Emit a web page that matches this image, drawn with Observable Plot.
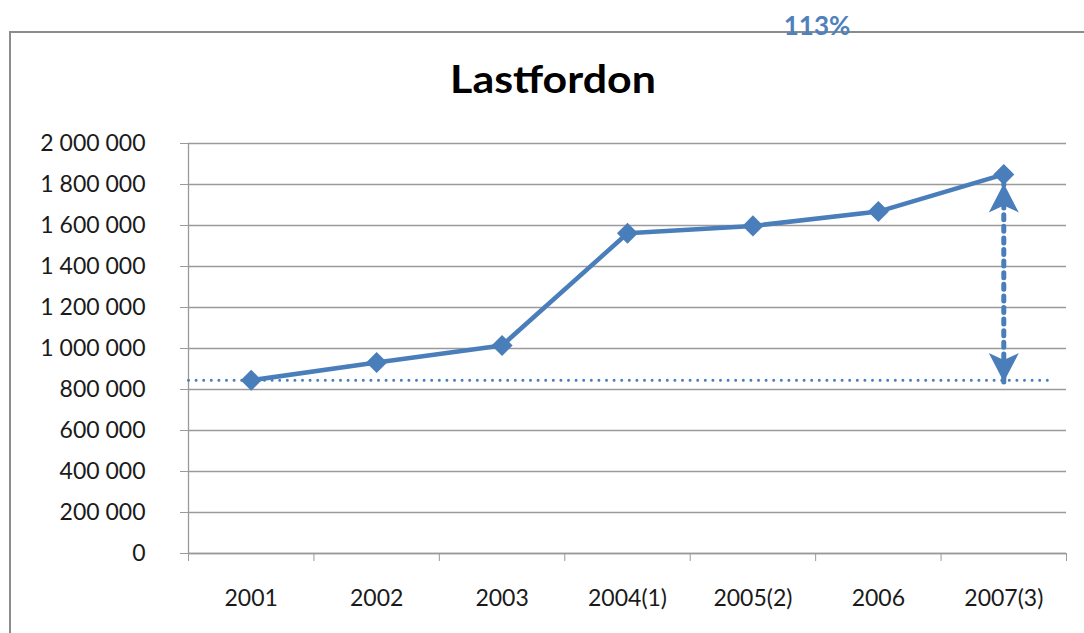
<!DOCTYPE html>
<html>
<head>
<meta charset="utf-8">
<script src="https://cdn.jsdelivr.net/npm/d3@7"></script>
<script src="https://cdn.jsdelivr.net/npm/@observablehq/plot@0.6"></script>
<style>
  html, body { margin: 0; padding: 0; background: #fff; overflow: hidden; }
  #wrap { position: relative; width: 1084px; height: 633px; overflow: hidden; font-family: Lato, "Open Sans", sans-serif; }
  #frame { position: absolute; left: 9px; top: 31px; width: 1100px; height: 700px; border: 2px solid #8c8c8c; box-sizing: border-box; }
  #chart { position: absolute; left: 0; top: 0; }
  #title { position: absolute; left: 553px; top: 59px; transform: translateX(-50%) scaleX(1.1); font: bold 39px/1 Lato, sans-serif; color: #000; white-space: nowrap; }
  #pct { position: absolute; left: 817px; top: 12px; transform: translateX(-50%); font: bold 26px/1 Lato, sans-serif; color: #4F81BD; white-space: nowrap; }
</style>
</head>
<body>
<div id="wrap">
  <div id="frame"></div>
  <div id="chart"></div>
  <div id="title">Lastfordon</div>
  <div id="pct">113%</div>
</div>
<script>
// ---- data ----
const categories = ["2001", "2002", "2003", "2004(1)", "2005(2)", "2006", "2007(3)"];
const values = [845000, 932000, 1015000, 1562000, 1598000, 1668000, 1849000];
const yTicks = [0, 200000, 400000, 600000, 800000, 1000000, 1200000, 1400000, 1600000, 1800000, 2000000];
const baselineValue = 845000;          // dotted reference level (2001)
const baselineExtent = [-0.5, 6.37];   // x-index extent of the dotted reference line
const arrowIndex = 6;                  // arrow at 2007(3)
const arrowTop = 1805000;
const arrowBottom = 836000;

// ---- derived tables ----
const series = categories.map((c, i) => ({i, category: c, value: values[i]}));
const refLine = baselineExtent.map(x => ({x, y: baselineValue}));
const shaft = [{x: arrowIndex, y: arrowBottom}, {x: arrowIndex, y: arrowTop}];
const heads = [{x: arrowIndex, y: arrowTop, rot: 0}, {x: arrowIndex, y: arrowBottom, rot: 180}];

const fmt = d => d3.format(",")(d).replace(/,/g, " ");
const blue = "#4A7EBB";
const gridColor = "#9a9a9a";

// stealth arrowhead with tip at origin, pointing up
const stealth = {
  draw(ctx, size) {
    ctx.moveTo(0, 0);
    ctx.lineTo(15, 29);
    ctx.lineTo(0, 22);
    ctx.lineTo(-15, 29);
    ctx.closePath();
  }
};

const plot = Plot.plot({
  width: 1084,
  height: 633,
  marginLeft: 188,
  marginRight: 18,
  marginTop: 143,
  marginBottom: 80,
  style: {background: "transparent", fontFamily: "Lato, 'Open Sans', sans-serif"},
  x: {type: "linear", domain: [-0.5, 6.5]},
  y: {domain: [0, 2000000]},
  marks: [
    Plot.gridY(yTicks, {stroke: gridColor, strokeOpacity: 1, strokeWidth: 1.3}),
    Plot.axisY({ticks: yTicks, tickSize: 8, tickPadding: 35, tickFormat: fmt, fontSize: 23, stroke: gridColor, fill: "#1a1a1a", label: null}),
    Plot.axisX({ticks: d3.range(7), tickSize: 0, tickPadding: 36, tickFormat: i => categories[i], fontSize: 23, fill: "#1a1a1a", label: null}),
    Plot.axisX({ticks: d3.range(8).map(i => i - 0.5), tickSize: 8, tickFormat: () => "", stroke: gridColor, label: null}),
    Plot.ruleX([-0.5], {stroke: gridColor, strokeWidth: 1.3}),
    Plot.ruleY([0], {stroke: gridColor, strokeWidth: 1.3}),
    Plot.line(refLine, {x: "x", y: "y", stroke: blue, strokeWidth: 3, strokeDasharray: "0 7.6", strokeLinecap: "round"}),
    Plot.line(shaft, {x: "x", y: "y", stroke: blue, strokeWidth: 5, strokeDasharray: "5 6.6"}),
    Plot.dot(heads, {x: "x", y: "y", rotate: "rot", symbol: stealth, r: 10, fill: blue, stroke: "none"}),
    Plot.line(series, {x: "i", y: "value", stroke: blue, strokeWidth: 4.5}),
    Plot.dot(series, {x: "i", y: "value", symbol: "diamond2", r: 9.5, fill: blue, stroke: "none"})
  ]
});
document.getElementById("chart").appendChild(plot);
</script>
</body>
</html>
